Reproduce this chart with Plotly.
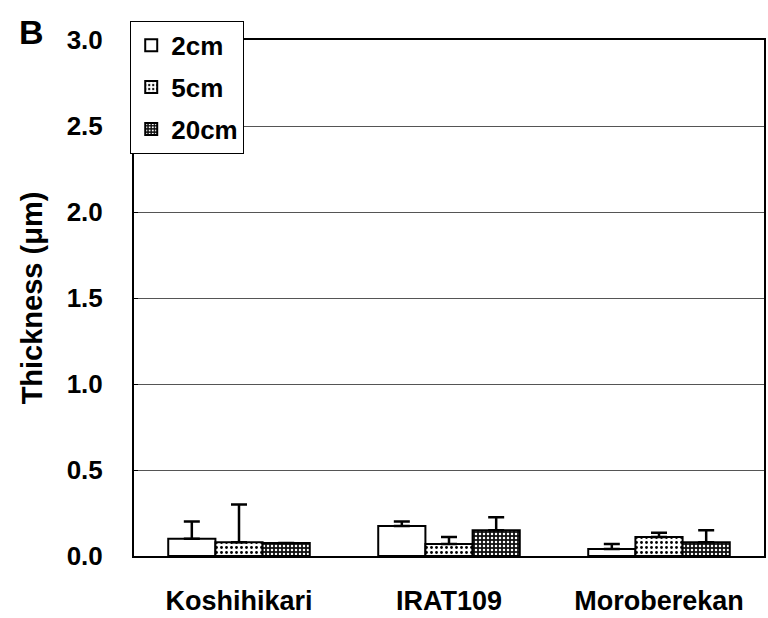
import plotly.graph_objects as go

categories = ["Koshihikari", "IRAT109", "Moroberekan"]
series_names = ["2cm", "5cm", "20cm"]
vals_2cm = [0.10, 0.175, 0.04]
err_2cm = [0.10, 0.025, 0.03]
vals_5cm = [0.08, 0.07, 0.11]
err_5cm = [0.22, 0.04, 0.025]
vals_20cm = [0.075, 0.15, 0.08]
err_20cm = [0.0, 0.075, 0.07]
y_ticks = [0.0, 0.5, 1.0, 1.5, 2.0, 2.5, 3.0]

FONT = "Liberation Sans, Arial, sans-serif"

styles = [
    dict(color="white", pattern=dict(shape="")),
    dict(color="white", pattern=dict(shape=".", fgcolor="black", bgcolor="white", size=5, solidity=0.25, fillmode="replace")),
    dict(color="black", pattern=dict(shape=".", fgcolor="white", bgcolor="#111111", size=4, solidity=0.3, fillmode="replace")),
]

fig = go.Figure()
for i, (name, v, e) in enumerate(zip(series_names, [vals_2cm, vals_5cm, vals_20cm], [err_2cm, err_5cm, err_20cm])):
    fig.add_trace(go.Bar(
        x=categories, y=v, name=name, legendgroup=name,
        marker=dict(color=styles[i]["color"], pattern=styles[i]["pattern"],
                    line=dict(color="black", width=2)),
        error_y=dict(type="data", symmetric=False, array=e, arrayminus=[0]*len(e),
                     color="black", thickness=2.5, width=8),
    ))

fig.update_layout(
    width=768, height=618,
    margin=dict(l=134, r=2, t=40, b=59),
    paper_bgcolor="white", plot_bgcolor="white",
    barmode="group", bargap=0.326, bargroupgap=0,
    font=dict(family=FONT, size=26, color="black", weight=700),
    showlegend=True,
    legend=dict(x=-0.006, y=1.037, xanchor="left", yanchor="top",
                bgcolor="white", bordercolor="black", borderwidth=1,
                font=dict(size=26, weight=700), tracegroupgap=5,
                traceorder="grouped", itemwidth=30),
    annotations=[dict(text="B", x=-0.185, y=1.015, xref="paper", yref="paper",
                      xanchor="left", yanchor="middle", showarrow=False,
                      font=dict(size=34, weight=700))],
)

fig.update_xaxes(
    showline=True, linecolor="black", linewidth=2, mirror=True,
    ticks="inside", ticklen=0, showgrid=False,
    tickfont=dict(size=27, weight=700), ticklabelstandoff=20,
)
fig.update_yaxes(
    range=[0, 3.0], tickvals=y_ticks, ticktext=[f"{t:.1f}" for t in y_ticks],
    showline=True, linecolor="black", linewidth=2, mirror=True,
    ticks="inside", ticklen=4, tickcolor="black",
    showgrid=True, gridcolor="#555555", gridwidth=1,
    tickfont=dict(size=26, weight=700), ticklabelstandoff=24,
    title=dict(text="Thickness (μm)", font=dict(size=29, weight=700), standoff=15),
    zeroline=False,
)

fig.write_html("out.html")
